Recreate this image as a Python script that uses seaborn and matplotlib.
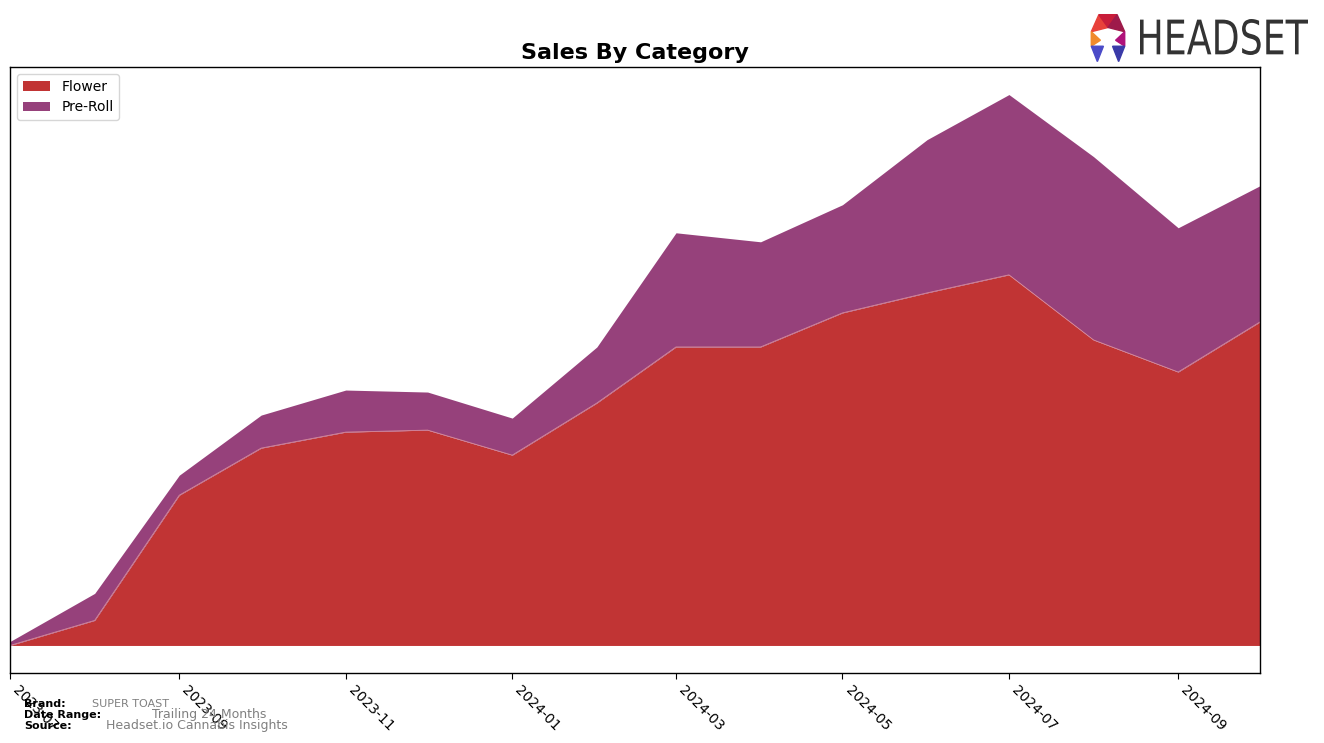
import numpy as np
import pandas as pd
import matplotlib
matplotlib.use('Agg')
import matplotlib.pyplot as plt
import matplotlib.dates as mdates
from matplotlib.patches import Polygon, PathPatch
from matplotlib.textpath import TextPath
from matplotlib.font_manager import FontProperties
from matplotlib.transforms import Affine2D
import seaborn as sns

# monthly sales by category (arbitrary units)
months = ['2023-07', '2023-08', '2023-09', '2023-10', '2023-11', '2023-12',
          '2024-01', '2024-02', '2024-03', '2024-04', '2024-05', '2024-06',
          '2024-07', '2024-08', '2024-09', '2024-10']
flower = [0, 25, 150, 197, 213, 215, 190, 242, 298, 298, 332, 352, 370, 305, 273, 323]
pre_roll = [4, 27, 20, 33, 42, 38, 37, 56, 114, 105, 108, 153, 180, 183, 144, 136]
categories = ['Flower', 'Pre-Roll']
tick_labels = ['2023-07', '2023-09', '2023-11', '2024-01', '2024-03',
               '2024-05', '2024-07', '2024-09']

brand = 'SUPER TOAST'
date_range = 'Trailing 24 Months'
source = 'Headset.io Cannabis Insights'

sns.set_style('ticks')
plt.rcParams['font.family'] = ['DejaVu Sans']
plt.rcParams['text.color'] = 'black'

sales_df = pd.DataFrame({'month': pd.to_datetime(months),
                         'Flower': flower,
                         'Pre-Roll': pre_roll})

colors = ['#C13434', '#96417B']

fig = plt.figure(figsize=(13.24, 7.43), dpi=100)
ax = fig.add_axes([0.0076, 0.0942, 0.9441, 0.8156])

ax.stackplot(sales_df['month'], sales_df['Flower'], sales_df['Pre-Roll'],
             labels=categories, colors=colors, linewidth=0)
# thin seam between the two layers
sns.lineplot(x=sales_df['month'], y=sales_df['Flower'], ax=ax,
             color='#D98A9A', linewidth=0.6, legend=False)

ax.set_xlim(sales_df['month'].min(), sales_df['month'].max())
ax.set_ylim(bottom=-0.05 * (sales_df['Flower'] + sales_df['Pre-Roll']).max())
ax.set_xticks(pd.to_datetime(tick_labels))
ax.xaxis.set_major_formatter(mdates.DateFormatter('%Y-%m'))
plt.setp(ax.get_xticklabels(), rotation=-45, ha='left', fontsize=10)
ax.set_yticks([])
ax.set_xlabel('')
ax.set_ylabel('')
for sp in ax.spines.values():
    sp.set_color('black')
    sp.set_linewidth(1)
ax.tick_params(axis='x', colors='black', length=4)

ax.set_title('Sales By Category', fontweight='bold', fontsize=16, color='black')
ax.legend(loc='upper left', fontsize=10, frameon=True)

# footer
fig.text(0.018, 0.049, 'Brand:', fontweight='bold', fontsize=8, color='black')
fig.text(0.0695, 0.049, brand, fontsize=8, color='grey')
fig.text(0.018, 0.034, 'Date Range:', fontweight='bold', fontsize=8, color='black')
fig.text(0.115, 0.034, date_range, fontsize=9, color='grey')
fig.text(0.018, 0.019, 'Source:', fontweight='bold', fontsize=8, color='black')
fig.text(0.080, 0.019, source, fontsize=9, color='grey')

# logo: squeezed word mark
tp = TextPath((0, 0), 'HEADSET', size=1, prop=FontProperties(family='DejaVu Sans'))
ext = tp.get_extents()
sx = (168 / 1324) / ext.width
sy = (36 / 743) / ext.height
tr = Affine2D().translate(-ext.x0, -ext.y0).scale(sx, sy).translate(1140 / 1324, 1 - 55 / 743)
fig.add_artist(PathPatch(tr.transform_path(tp), color='#333333', lw=0,
                         transform=fig.transFigure))

# logo: icon
cx, cy = 1108 / 1324, 1 - 36 / 743
k = 1.35
icon = [
    ([(-0.011, 0.005), (-0.006, 0.025), (0, 0.010)], '#E8413A'),
    ([(-0.006, 0.025), (0.006, 0.025), (0, 0.010)], '#C81D3A'),
    ([(0.006, 0.025), (0.011, 0.005), (0, 0.010)], '#9E1A4A'),
    ([(-0.011, 0.005), (-0.011, -0.012), (-0.005, -0.005)], '#F08A2C'),
    ([(0.011, 0.005), (0.011, -0.012), (0.005, -0.005)], '#B0127A'),
    ([(-0.011, -0.012), (-0.003, -0.012), (-0.007, -0.030)], '#4A4AC8'),
    ([(0.011, -0.012), (0.003, -0.012), (0.007, -0.030)], '#3A3AA8'),
]
for pts, c in icon:
    pts = [(cx + k * dx * 0.85, cy + k * dy * 0.85) for dx, dy in pts]
    fig.add_artist(Polygon(pts, closed=True, color=c, transform=fig.transFigure))

plt.savefig('out.png', dpi=100)
plt.close()
